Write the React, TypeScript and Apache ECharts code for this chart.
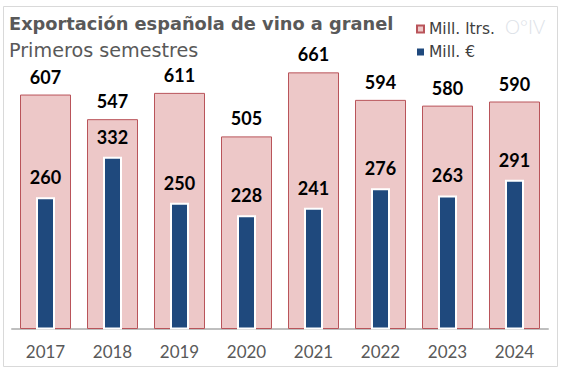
import React, { useEffect, useRef } from "react";
import * as echarts from "echarts";

const years = ["2017", "2018", "2019", "2020", "2021", "2022", "2023", "2024"];
const litros = [607, 547, 611, 505, 661, 594, 580, 590];
const euros = [260, 332, 250, 228, 241, 276, 263, 291];
const seriesNames = ["Mill. ltrs.", "Mill. €"];
const titleText = "Exportación española de vino a granel";
const subtitleText = "Primeros semestres";

const FONT = "Lato";

export default function App() {
  const ref = useRef<HTMLDivElement>(null);
  useEffect(() => {
    if (!ref.current) return;
    const chart = echarts.init(ref.current, undefined, { renderer: "svg" });
    chart.setOption({
      animation: false,
      backgroundColor: "#ffffff",
      grid: { left: 12, right: 13, top: 58, bottom: 47.5 },
      legend: {
        orient: "vertical",
        left: 416,
        top: 21,
        padding: 0,
        itemWidth: 7,
        itemHeight: 7,
        itemGap: 7,
        icon: "rect",
        textStyle: { fontSize: 15.5, color: "#404040", fontFamily: "DejaVu Sans" },
        data: [
          { name: seriesNames[0] },
          { name: seriesNames[1], itemStyle: { borderWidth: 0 } },
        ],
      },
      xAxis: [
        {
          type: "category",
          data: years,
          axisTick: { show: false },
          axisLine: { lineStyle: { color: "#bfbfbf", width: 2 } },
          axisLabel: { color: "#595959", fontSize: 17, margin: 14, fontFamily: FONT },
        },
        {
          type: "category",
          data: years,
          show: false,
          position: "bottom",
        },
      ],
      yAxis: [
        { type: "value", min: 37, max: 696, show: false, splitLine: { show: false } },
        { type: "value", min: 26, max: 508, show: false, splitLine: { show: false } },
      ],
      series: [
        {
          name: seriesNames[0],
          type: "bar",
          xAxisIndex: 0,
          yAxisIndex: 0,
          data: litros,
          barWidth: 51,
          itemStyle: { color: "#edc8c8", borderColor: "#b9545a", borderWidth: 1 },
          label: {
            show: true,
            position: "top",
            distance: 9,
            fontSize: 18,
            fontWeight: "bold",
            color: "#000000",
            fontFamily: FONT,
          },
          z: 1,
        },
        {
          name: seriesNames[1],
          type: "bar",
          xAxisIndex: 1,
          yAxisIndex: 1,
          data: euros,
          barWidth: 19,
          itemStyle: { color: "#1f497d", borderColor: "#ffffff", borderWidth: 2 },
          label: {
            show: true,
            position: "top",
            distance: 11,
            fontSize: 18,
            fontWeight: "bold",
            color: "#000000",
            fontFamily: FONT,
          },
          z: 3,
        },
      ],
      graphic: [
        {
          type: "rect",
          shape: { x: 3.5, y: 6.5, width: 554, height: 360 },
          style: { fill: "none", stroke: "#d9d9d9", lineWidth: 1 },
          silent: true,
          z: -1,
        },
        {
          type: "text",
          x: 9,
          y: 23,
          style: {
            text: titleText,
            fill: "#595959",
            fontSize: 17.8,
            fontWeight: "bold",
            fontFamily: "DejaVu Sans",
            textVerticalAlign: "middle",
          },
        },
        {
          type: "text",
          x: 9,
          y: 50,
          style: {
            text: subtitleText,
            fill: "#595959",
            fontSize: 19.2,
            fontFamily: "DejaVu Sans",
            textVerticalAlign: "middle",
          },
        },
        {
          type: "text",
          x: 505,
          y: 26,
          style: {
            text: "O°IV",
            fill: "#dde2e8",
            fontSize: 19,
            fontWeight: 300,
            fontFamily: FONT,
            textVerticalAlign: "middle",
          },
        },
      ],
    });
    return () => chart.dispose();
  }, []);
  return (
    <div
      ref={ref}
      style={{ position: "fixed", left: 0, top: 0, width: 561, height: 376, background: "#fff" }}
    />
  );
}
